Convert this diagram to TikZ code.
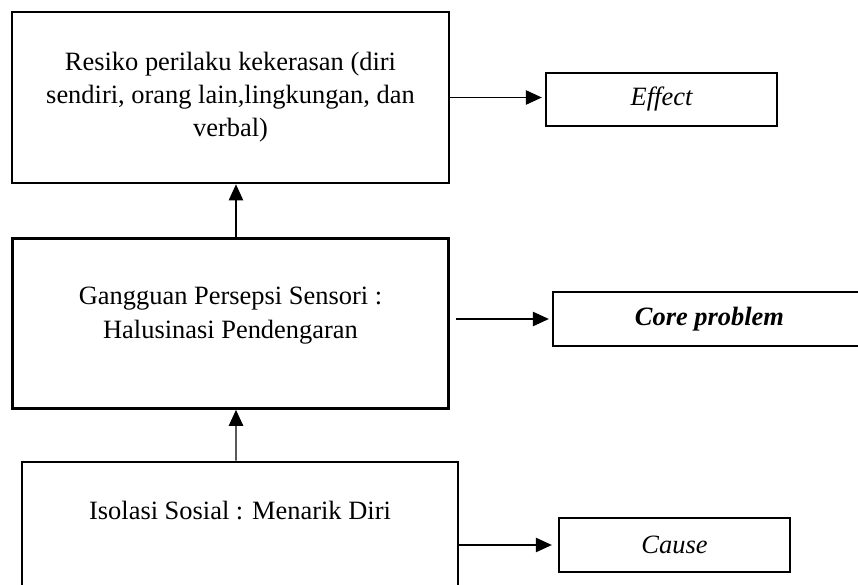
\documentclass[tikz,border=0pt]{standalone}
\usepackage{fontspec}
\setmainfont{Liberation Serif}
\usetikzlibrary{positioning,arrows.meta}

\begin{document}
\begin{tikzpicture}[x=0.025cm,y=-0.025cm]
    \tikzset{BoxStyle/.style = {draw, line width=1.9pt, inner sep=0pt, align=center,
        font=\fontsize{18.8}{23.5}\selectfont}}
    \tikzset{TagStyle/.style = {draw, line width=1.6pt, inner sep=0pt, minimum width=5.775cm,
        minimum height=1.34cm, font=\fontsize{18.8}{23.5}\selectfont\itshape}}
    \tikzset{EdgeStyle/.style = {line width=0.9pt, -{Triangle[length=0.4cm,width=0.36cm]}}}
    \clip (0,0) rectangle (858,585);
    \node[BoxStyle, minimum width=10.925cm, minimum height=4.275cm] (resiko) at (230.5,97.5)
        {Resiko perilaku kekerasan (diri\\sendiri, orang lain,lingkungan, dan\\verbal)};
    \node[BoxStyle, minimum width=10.9cm, minimum height=4.25cm, text depth=0.25em+0.45cm] (gangguan) at (230.5,323.5)
        {Gangguan Persepsi Sensori :\\Halusinasi Pendengaran};
    \node[BoxStyle, minimum width=10.9cm, minimum height=3.45cm, text depth=0.25em+0.95cm] (isolasi) at (240,531)
        {Isolasi Sosial : Menarik Diri};
    \node[TagStyle] (effect) at (661.5,99.5) {Effect};
    \node[TagStyle, minimum width=7.825cm, font=\fontsize{18.8}{23.5}\selectfont\bfseries\itshape] (core) at (709.5,319) {Core problem};
    \node[TagStyle] (cause) at (674.5,545) {Cause};
    \draw[EdgeStyle, shorten >=0.075cm] (resiko.east) -- (resiko.east -| effect.west);
    \draw[EdgeStyle, shorten <=0.15cm, shorten >=0.075cm] (gangguan.east |- core.west) -- (core.west);
    \draw[EdgeStyle, shorten >=0.15cm] (isolasi.east |- cause.west) -- (cause.west);
    \draw[EdgeStyle] ([xshift=3.9pt]gangguan.north) -- ([xshift=3.9pt]resiko.south);
    \draw[EdgeStyle] ([xshift=-2.8pt]isolasi.north) -- ([xshift=3.9pt]gangguan.south);
\end{tikzpicture}
\end{document}
